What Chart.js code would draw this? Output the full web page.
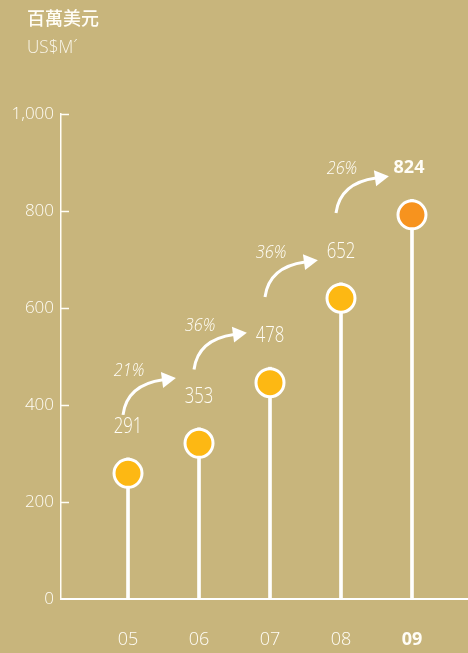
<!DOCTYPE html>
<html>
<head>
<meta charset="utf-8">
<script src="https://cdn.jsdelivr.net/npm/chart.js@4"></script>
<style>
  html, body { margin: 0; padding: 0; background: #C8B57C; }
  #wrap { width: 468px; height: 653px; position: relative; }
</style>
</head>
<body>
<div id="wrap"><canvas id="c" width="468" height="653"></canvas></div>
<script>
// Revenue by year (US$ millions)
const years = ['05', '06', '07', '08', '09'];
const revenue = [291, 353, 478, 652, 824];
const growth = ['21%', '36%', '36%', '26%'];
const yTicks = [0, 200, 400, 600, 800, 1000];
const unitLabels = ['百萬美元', 'US$M´'];

const INK = '#FFFDF6';
const DOT = '#FDB813';
const DOT_LAST = '#F7931E';
const SANS = "'Open Sans', 'Liberation Sans', sans-serif";
const R = 14, RING = 3;               // lollipop head radius and ring width
const HEAD_DROP = R + RING / 2;       // head sits just below the value line

const stems = revenue.map((v, i) => ({ x: i, y: v }));
const heads = revenue.map((v, i) => ({ x: i, y: v }));

// text squeezed horizontally to get a condensed face
function narrowText(ctx, text, x, y, squeeze) {
  ctx.save();
  ctx.translate(x, y);
  ctx.scale(squeeze, 1);
  ctx.fillText(text, 0, 0);
  ctx.restore();
}

const lollipopPlugin = {
  id: 'lollipop',
  beforeDatasetsDraw(chart) {
    // place each head so its top edge touches the value
    const ys = chart.scales.y;
    const meta = chart.getDatasetMeta(1);
    meta.data.forEach((el, i) => {
      el.y = ys.getPixelForValue(revenue[i]) + HEAD_DROP;
    });
  },
  afterDraw(chart) {
    const { ctx, scales: { x: xs, y: ys }, chartArea: ca } = chart;
    ctx.save();

    // inward tick marks on the value axis
    ctx.strokeStyle = INK;
    ctx.lineWidth = 1.5;
    yTicks.forEach(v => {
      if (v === 0) return;
      const py = Math.round(ys.getPixelForValue(v)) + 0.5;
      ctx.beginPath();
      ctx.moveTo(ca.left, py);
      ctx.lineTo(ca.left + 8, py);
      ctx.stroke();
    });

    // value labels
    ctx.fillStyle = INK;
    ctx.textAlign = 'center';
    ctx.textBaseline = 'middle';
    revenue.forEach((v, i) => {
      const last = i === revenue.length - 1;
      const px = xs.getPixelForValue(i);
      const py = ys.getPixelForValue(v) - 31;
      if (last) {
        ctx.font = '700 18px ' + SANS;
        ctx.fillText(String(v), px - 3, py);
      } else {
        ctx.font = '300 22px ' + SANS;
        narrowText(ctx, String(v), px, py, 0.76);
      }
    });

    // growth arrows between consecutive years
    growth.forEach((g, i) => {
      const sx = xs.getPixelForValue(i) - 5;
      const mid = (ys.getPixelForValue(revenue[i]) + ys.getPixelForValue(revenue[i + 1])) / 2;
      const sy = mid - 28;
      const cx = sx + 4, cy = sy - 30;
      const ex = sx + 40, ey = sy - 35;
      ctx.strokeStyle = '#FFFFFF';
      ctx.lineWidth = 3;
      ctx.lineCap = 'butt';
      ctx.beginPath();
      ctx.moveTo(sx, sy);
      ctx.quadraticCurveTo(cx, cy, ex, ey);
      ctx.stroke();
      // arrow head
      let dx = ex - cx, dy = ey - cy;
      const len = Math.hypot(dx, dy);
      dx /= len; dy /= len;
      const nx = -dy, ny = dx;
      const tipX = ex + dx * 13, tipY = ey + dy * 13;
      const bx = ex - dx * 1, by = ey - dy * 1;
      ctx.fillStyle = '#FFFFFF';
      ctx.beginPath();
      ctx.moveTo(tipX, tipY);
      ctx.lineTo(bx + nx * 8, by + ny * 8);
      ctx.lineTo(bx - nx * 8, by - ny * 8);
      ctx.closePath();
      ctx.fill();
      // percentage
      ctx.fillStyle = INK;
      ctx.font = 'italic 300 18px ' + SANS;
      ctx.textAlign = 'center';
      narrowText(ctx, g, sx + 6, sy - 44, 0.9);
    });

    // unit heading
    ctx.textAlign = 'left';
    ctx.textBaseline = 'middle';
    ctx.fillStyle = INK;
    ctx.font = "500 18px 'Noto Sans CJK TC', 'Noto Sans CJK SC', sans-serif";
    ctx.fillText(unitLabels[0], 27, 18);
    ctx.fillStyle = 'rgba(255,253,246,0.9)';
    ctx.font = '300 18px ' + SANS;
    narrowText(ctx, unitLabels[1], 27, 48, 0.95);

    ctx.restore();
  }
};

new Chart(document.getElementById('c'), {
  data: {
    datasets: [
      {
        type: 'bar',
        data: stems,
        backgroundColor: '#FFFFFF',
        barThickness: 3,
        order: 2
      },
      {
        type: 'scatter',
        data: heads,
        pointRadius: R,
        pointHoverRadius: R,
        pointBorderWidth: RING,
        pointBorderColor: '#FFFFFF',
        pointBackgroundColor: revenue.map((v, i) => i === revenue.length - 1 ? DOT_LAST : DOT),
        order: 1
      }
    ]
  },
  options: {
    responsive: false,
    animation: false,
    devicePixelRatio: 1,
    layout: { autoPadding: false, padding: { top: 114, left: 0, right: 0, bottom: 0 } },
    plugins: { legend: { display: false }, tooltip: { enabled: false }, title: { display: false } },
    events: [],
    scales: {
      x: {
        type: 'linear',
        offset: false,
        min: -0.944,
        max: 4.789,
        afterBuildTicks: s => { s.ticks = years.map((_, i) => ({ value: i })); },
        afterFit: s => { s.height = 54; s.paddingLeft = 0; s.paddingRight = 0; },
        grid: { display: false, drawTicks: false, offset: false },
        border: { color: '#FFFFFF', width: 2 },
        ticks: {
          padding: 30,
          color: INK,
          autoSkip: false,
          maxRotation: 0,
          font: c => ({ family: SANS, size: 18, weight: c.index === years.length - 1 ? '700' : '300' }),
          callback: v => years[v]
        }
      },
      y: {
        min: 0,
        max: 1000,
        afterBuildTicks: s => { s.ticks = yTicks.map(v => ({ value: v })); },
        afterFit: s => { s.width = 61; },
        grid: { display: false, drawTicks: false },
        border: { color: INK, width: 1.5 },
        ticks: {
          padding: 7,
          color: INK,
          font: { family: SANS, size: 17, weight: '300' },
          callback: v => v.toLocaleString('en-US')
        }
      }
    }
  },
  plugins: [lollipopPlugin]
});
</script>
</body>
</html>
